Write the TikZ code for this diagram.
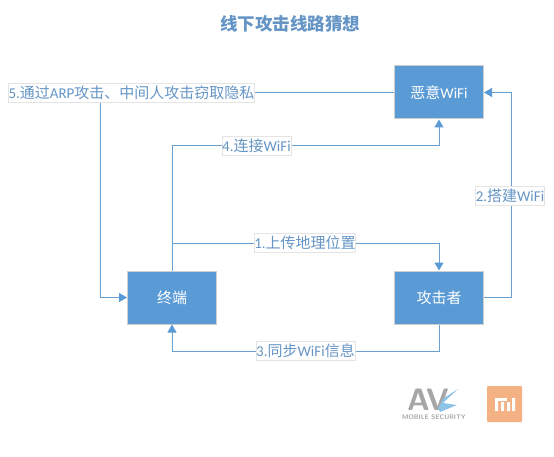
\documentclass[tikz,border=0pt]{standalone}
\usepackage{fontspec}
\usepackage{xcolor}
\usetikzlibrary{arrows.meta}
\setmainfont{Carlito}
\newfontfamily\cjkfont{Noto Sans CJK SC}
\newcommand{\zh}[1]{{\cjkfont #1}}
\definecolor{boxblue}{HTML}{5B9BD5}
\definecolor{boxedge}{HTML}{CFCFCF}
\definecolor{linkblue}{HTML}{6A9FD2}
\definecolor{labeltext}{HTML}{6595C5}
\definecolor{labeledge}{HTML}{E4E4E4}
\definecolor{logogray}{HTML}{A6A6A6}
\definecolor{logoblue}{HTML}{8CC4E8}
\definecolor{miorange}{HTML}{F4B183}
\tikzset{
  hostbox/.style={draw=boxedge,fill=boxblue,line width=1pt,minimum width=89pt,minimum height=53pt,inner sep=0pt,text=white,font=\fontsize{15}{15}\selectfont},
  link/.style={draw=linkblue,line width=1pt,-{Triangle[length=8pt,width=9pt,color=boxblue]}},
  linkmark/.style={draw=labeledge,fill=white,line width=0.8pt,inner sep=0.2pt,minimum height=19pt,text=labeltext,font=\fontsize{15}{15}\selectfont}
}
\begin{document}
\begin{tikzpicture}[x=1pt,y=-1pt]
\useasboundingbox (0,0) rectangle (554,457);
% title
\node[font=\fontsize{17.5}{18}\selectfont\bfseries,text=labeltext] (title) at (290,24) {\zh{\bfseries 线下攻击线路猜想}};

% hosts
\node[hostbox] (wifi) at (439,92.5) {\zh{恶意}WiFi};
\node[hostbox] (phone) at (172,297.5) {\zh{终端}};
\node[hostbox] (attacker) at (439,297.5) {\zh{攻击者}};

\coordinate (upload) at (phone.north |- 0,243);
\coordinate (joinbend) at (phone.north |- 0,146);
\coordinate (syncbend) at (attacker.south |- 0,351);
\coordinate (buildbend) at (511,297.5);
\coordinate (stealbend) at (100.5,92.5);

% connectors
\draw[link] (attacker.east) -- (buildbend) |- (wifi.east);
\draw[link] (phone.north) -- (joinbend) -| (wifi.south);
\draw[link] (upload) -| (attacker.north);
\draw[link] (attacker.south) -- (syncbend) -| (phone.south);
\draw[link] (wifi.west) -- (stealbend) |- (phone.west);

% labels on the connectors
\node[linkmark] (step1) at (305,243) {1.\zh{上传地理位置}};
\node[linkmark] (step2) at (510,195.5) {2.\zh{搭建}WiFi};
\node[linkmark] (step3) at (305.5,351) {3.\zh{同步}WiFi\zh{信息}};
\node[linkmark] (step4) at (256.5,146) {4.\zh{连接}WiFi};
\node[linkmark] (step5) at (131.5,92.5) {5.\zh{通过}ARP\zh{攻击、中间人攻击窃取隐私}};

% logos
\node[font=\fontsize{31}{31}\selectfont\bfseries\sffamily,text=logogray,inner sep=0pt] (avmark) at (428,399.5) {AV};
\fill[logoblue] (458,389) -- (443,403) -- (457,405) -- (440,412) -- (438,408) -- (444,398) -- cycle;
\node[font=\fontsize{6.6}{7}\selectfont\bfseries\sffamily,text=logogray,inner sep=0pt] (avtext) at (434,417.5) {MOBILE SECURITY};
\node[fill=miorange,rounded corners=1pt,minimum width=35pt,minimum height=36pt,inner sep=0pt] (milogo) at (504.5,404) {};
\fill[white] (495,398) rectangle (498,411) (501,402) rectangle (504,411) (507,402) rectangle (510,411) (512,398) rectangle (515,411);
\fill[white] (495,398) rectangle (507,401);
\end{tikzpicture}
\end{document}
